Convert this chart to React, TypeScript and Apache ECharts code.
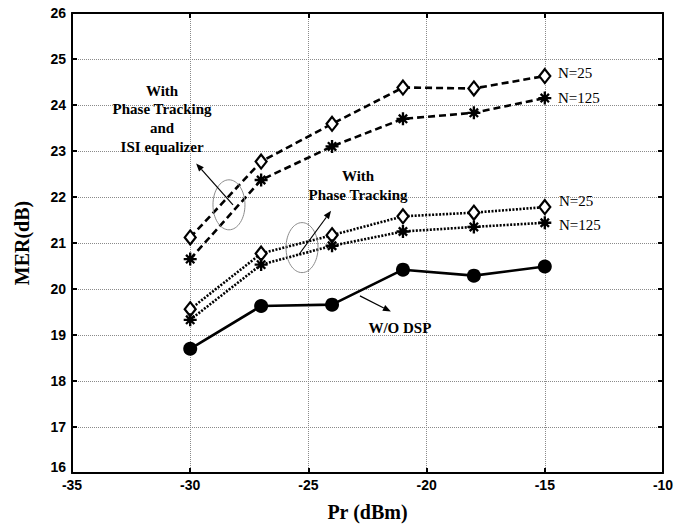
import React, { useEffect, useRef } from "react";
import * as echarts from "echarts";

// ---- data ----
const power = [-30, -27, -24, -21, -18, -15];
const ptIsiN25 = [21.12, 22.77, 23.59, 24.38, 24.36, 24.63];
const ptIsiN125 = [20.65, 22.37, 23.1, 23.7, 23.83, 24.15];
const ptN25 = [19.56, 20.77, 21.17, 21.58, 21.66, 21.78];
const ptN125 = [19.33, 20.53, 20.94, 21.25, 21.35, 21.44];
const woDsp = [18.7, 19.63, 19.66, 20.42, 20.29, 20.49];

const xMin = -35, xMax = -10, xStep = 5;
const yMin = 16, yMax = 26, yStep = 1;

// annotation anchors in data coordinates
const noteIsi = { text: "With\nPhase Tracking\nand\nISI equalizer", at: [-31.19, 23.7] };
const notePt = { text: "With\nPhase Tracking", at: [-22.9, 22.25] };
const noteWo = { text: "W/O DSP", at: [-21.13, 19.16] };
const nLabels = [
  { text: "N=25", at: [-14.44, 24.69] },
  { text: "N=125", at: [-14.44, 24.15] },
  { text: "N=25", at: [-14.4, 21.91] },
  { text: "N=125", at: [-14.4, 21.4] },
];
const ellipses = [
  { at: [-28.36, 21.83], rx: 16, ry: 25 },
  { at: [-25.27, 20.9], rx: 16, ry: 25 },
];
const arrows = [
  { from: [-28.19, 21.83], to: [-29.75, 22.73] },
  { from: [-25.4, 20.75], to: [-24.04, 21.7] },
  { from: [-22.82, 19.85], to: [-21.51, 19.51] },
];

const STAR =
  "path://M8.2 0 L11.8 0 L11.8 20 L8.2 20 Z M0 8.2 L20 8.2 L20 11.8 L0 11.8 Z " +
  "M4.87 2.33 L17.67 15.13 L15.13 17.67 L2.33 4.87 Z " +
  "M17.67 4.87 L4.87 17.67 L2.33 15.13 L15.13 2.33 Z";

const SERIF = "'Liberation Serif', 'Times New Roman', serif";
const SANS = "'Liberation Sans', Arial, sans-serif";

const pairs = (ys: number[]) => power.map((x, i) => [x, ys[i]]);

export default function App() {
  const ref = useRef<HTMLDivElement>(null);
  useEffect(() => {
    if (!ref.current) return;
    const chart = echarts.init(ref.current, undefined, { renderer: "svg" });
    const axisLine = () => ({ show: true, onZero: false, lineStyle: { color: "#000", width: 2 } });
    const tick = () => ({ show: true, inside: true, length: 5, lineStyle: { color: "#000", width: 2 } });
    const split = () => ({ show: true, lineStyle: { color: "#8a8a8a", width: 1, type: "dotted" } });
    const diamond = () => ({
      symbol: "diamond",
      symbolSize: [11, 14],
      itemStyle: { color: "#fff", borderColor: "#000", borderWidth: 2.2 },
    });
    const star = () => ({ symbol: STAR, symbolSize: 13, itemStyle: { color: "#000" } });
    const lineBase = (type: any) => ({ color: "#000", width: 2.6, type });
    chart.setOption({
      animation: false,
      backgroundColor: "#fff",
      grid: { left: 72, right: 23, top: 13, bottom: 48, containLabel: false },
      xAxis: [
        {
          type: "value", min: xMin, max: xMax, interval: xStep,
          axisLine: axisLine(), axisTick: tick(), splitLine: split(),
          axisLabel: { color: "#000", fontFamily: SANS, fontWeight: "bold", fontSize: 14, margin: 5 },
          name: "Pr (dBm)", nameLocation: "middle", nameGap: 29,
          nameTextStyle: { color: "#000", fontFamily: SERIF, fontWeight: "bold", fontSize: 20 },
        },
        {
          type: "value", position: "top", min: xMin, max: xMax, interval: xStep,
          axisLine: axisLine(), axisTick: tick(), splitLine: { show: false }, axisLabel: { show: false },
        },
      ],
      yAxis: [
        {
          type: "value", min: yMin, max: yMax, interval: yStep,
          axisLine: axisLine(), axisTick: tick(), splitLine: split(),
          axisLabel: {
            color: "#000", fontFamily: SANS, fontWeight: "bold", fontSize: 14, margin: 6,
            formatter: (v: number) => (v === yMin ? `{low|${v}}` : `${v}`),
            rich: { low: { padding: [0, 0, 12, 0], fontFamily: SANS, fontWeight: "bold", fontSize: 14, color: "#000" } },
          },
          name: "MER(dB)", nameLocation: "middle", nameGap: 40,
          nameTextStyle: { color: "#000", fontFamily: SERIF, fontWeight: "bold", fontSize: 20 },
        },
        {
          type: "value", position: "right", min: yMin, max: yMax, interval: yStep,
          axisLine: axisLine(), axisTick: tick(), splitLine: { show: false }, axisLabel: { show: false },
        },
      ],
      series: [
        { type: "line", name: "PT+ISI N=25", data: pairs(ptIsiN25), lineStyle: lineBase([7, 4]), ...diamond(), z: 5 },
        { type: "line", name: "PT+ISI N=125", data: pairs(ptIsiN125), lineStyle: lineBase([7, 4]), ...star(), z: 5 },
        { type: "line", name: "PT N=25", data: pairs(ptN25), lineStyle: lineBase([2, 1.5]), ...diamond(), z: 5 },
        { type: "line", name: "PT N=125", data: pairs(ptN125), lineStyle: lineBase([2, 1.5]), ...star(), z: 5 },
        {
          type: "line", name: "W/O DSP", data: pairs(woDsp), lineStyle: lineBase("solid"),
          symbol: "circle", symbolSize: 14, itemStyle: { color: "#000" }, z: 5,
        },
      ],
    });

    const px = (p: number[]) => chart.convertToPixel({ gridIndex: 0 }, p) as number[];
    const elements: any[] = [];
    for (const n of [noteIsi, notePt, noteWo]) {
      const [x, y] = px(n.at);
      elements.push({
        type: "text", x, y,
        style: {
          text: n.text, fill: "#000", font: `bold 15px ${SERIF}`, align: "center",
          verticalAlign: "middle", lineHeight: 18.7,
        },
        z: 10,
      });
    }
    for (const n of nLabels) {
      const [x, y] = px(n.at);
      elements.push({
        type: "text", x, y,
        style: { text: n.text, fill: "#000", font: `15px ${SERIF}`, align: "left", verticalAlign: "middle" },
        z: 10,
      });
    }
    for (const e of ellipses) {
      const [cx, cy] = px(e.at);
      elements.push({
        type: "ellipse", shape: { cx, cy, rx: e.rx, ry: e.ry },
        style: { fill: "none", stroke: "#8c8c8c", lineWidth: 1 }, z: 10,
      });
    }
    for (const a of arrows) {
      const [x1, y1] = px(a.from);
      const [x2, y2] = px(a.to);
      const dx = x2 - x1, dy = y2 - y1;
      const len = Math.hypot(dx, dy);
      const ux = dx / len, uy = dy / len;
      const hl = 8, hw = 3.2;
      const bx = x2 - ux * hl, by = y2 - uy * hl;
      elements.push({
        type: "line", shape: { x1, y1, x2: bx, y2: by },
        style: { stroke: "#000", lineWidth: 1.2 }, z: 10,
      });
      elements.push({
        type: "polygon",
        shape: { points: [[x2, y2], [bx - uy * hw, by + ux * hw], [bx + uy * hw, by - ux * hw]] },
        style: { fill: "#000" }, z: 10,
      });
    }
    chart.setOption({ graphic: { elements } });
    return () => chart.dispose();
  }, []);
  return (
    <div
      ref={ref}
      style={{ position: "fixed", left: 0, top: 0, width: 686, height: 527, background: "#fff" }}
    />
  );
}
